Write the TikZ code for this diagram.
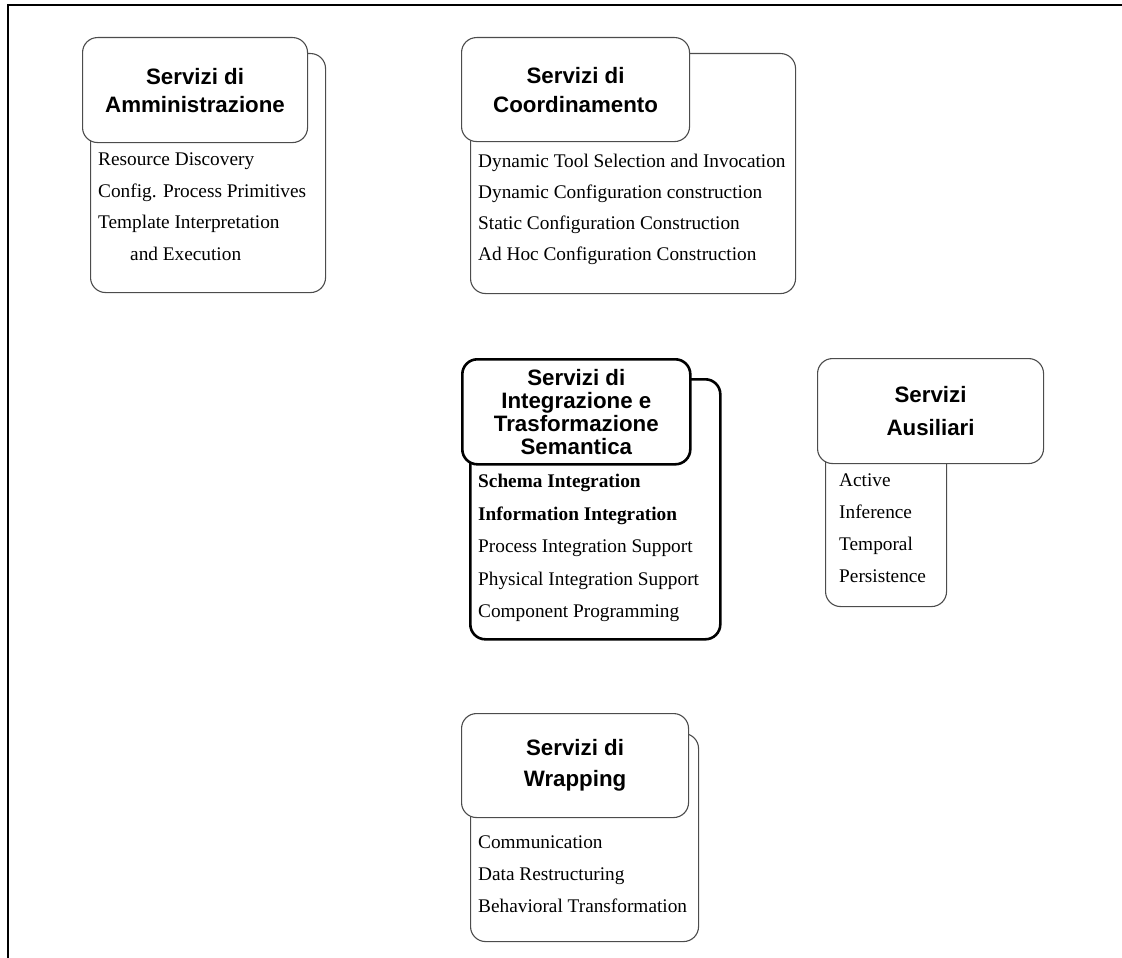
\documentclass[tikz,border=0pt]{standalone}
\usepackage{fontspec}
\setmainfont{Liberation Serif}
\setsansfont{Liberation Sans}

\begin{document}
\begin{tikzpicture}[x=1pt,y=-1pt,
        back/.style={rectangle,draw=black!70,line width=1.1pt,rounded corners=15pt,anchor=north west,inner sep=0pt},
        head/.style={back,fill=white,align=center,font=\sffamily\bfseries\fontsize{22.3}{#1}\selectfont},
        head/.default=29,
        items/.style={anchor=north west,inner sep=0pt,align=left,font=\fontsize{19.3}{#1}\selectfont},
        items/.default=32,
        strong/.style={draw=black,line width=2.6pt}]
        \useasboundingbox (0,0) rectangle (1122,958);
        \draw [line width=2pt] (1122,5) -- (8,5) -- (8,958);
        % amministrazione
        \node [back, minimum width=235, minimum height=239] (ammBack) at (90,53) {};
        \node [head=28, minimum width=225, minimum height=105] (ammHead) at (82,37) {Servizi di\\Amministrazione};
        \node [items=31.5] (ammList) at (98,153) {Resource Discovery\\Config. Process Primitives\\Template Interpretation\\\hspace*{32pt}and Execution};
        % coordinamento
        \node [back, minimum width=325, minimum height=240] (coordBack) at (470,53) {};
        \node [head=29, minimum width=228, minimum height=104] (coordHead) at (461,37) {Servizi di\\Coordinamento};
        \node [items=31] (coordList) at (478,154) {Dynamic Tool Selection and Invocation\\Dynamic Configuration construction\\Static Configuration Construction\\Ad Hoc Configuration Construction};
        % integrazione
        \node [back, strong, minimum width=250, minimum height=260] (intBack) at (469,378) {};
        \node [head=23, strong, minimum width=228, minimum height=105] (intHead) at (461,358) {Servizi di\\Integrazione e\\Trasformazione\\Semantica};
        \node [items=32.5] (intList) at (478,474) {\textbf{Schema Integration}\\\textbf{Information Integration}\\Process Integration Support\\Physical Integration Support\\Component Programming};
        % ausiliari
        \node [back, minimum width=121, minimum height=228] (ausBack) at (825,378) {};
        \node [head=33, minimum width=226, minimum height=105] (ausHead) at (817,358) {Servizi\\Ausiliari};
        \node [items] (ausList) at (839,474) {Active\\Inference\\Temporal\\Persistence};
        % wrapping
        \node [back, minimum width=228, minimum height=208] (wrapBack) at (470,733) {};
        \node [head=31, minimum width=227, minimum height=104] (wrapHead) at (461,713) {Servizi di\\Wrapping};
        \node [items] (wrapList) at (478,836) {Communication\\Data Restructuring\\Behavioral Transformation};
    \end{tikzpicture}
\end{document}
